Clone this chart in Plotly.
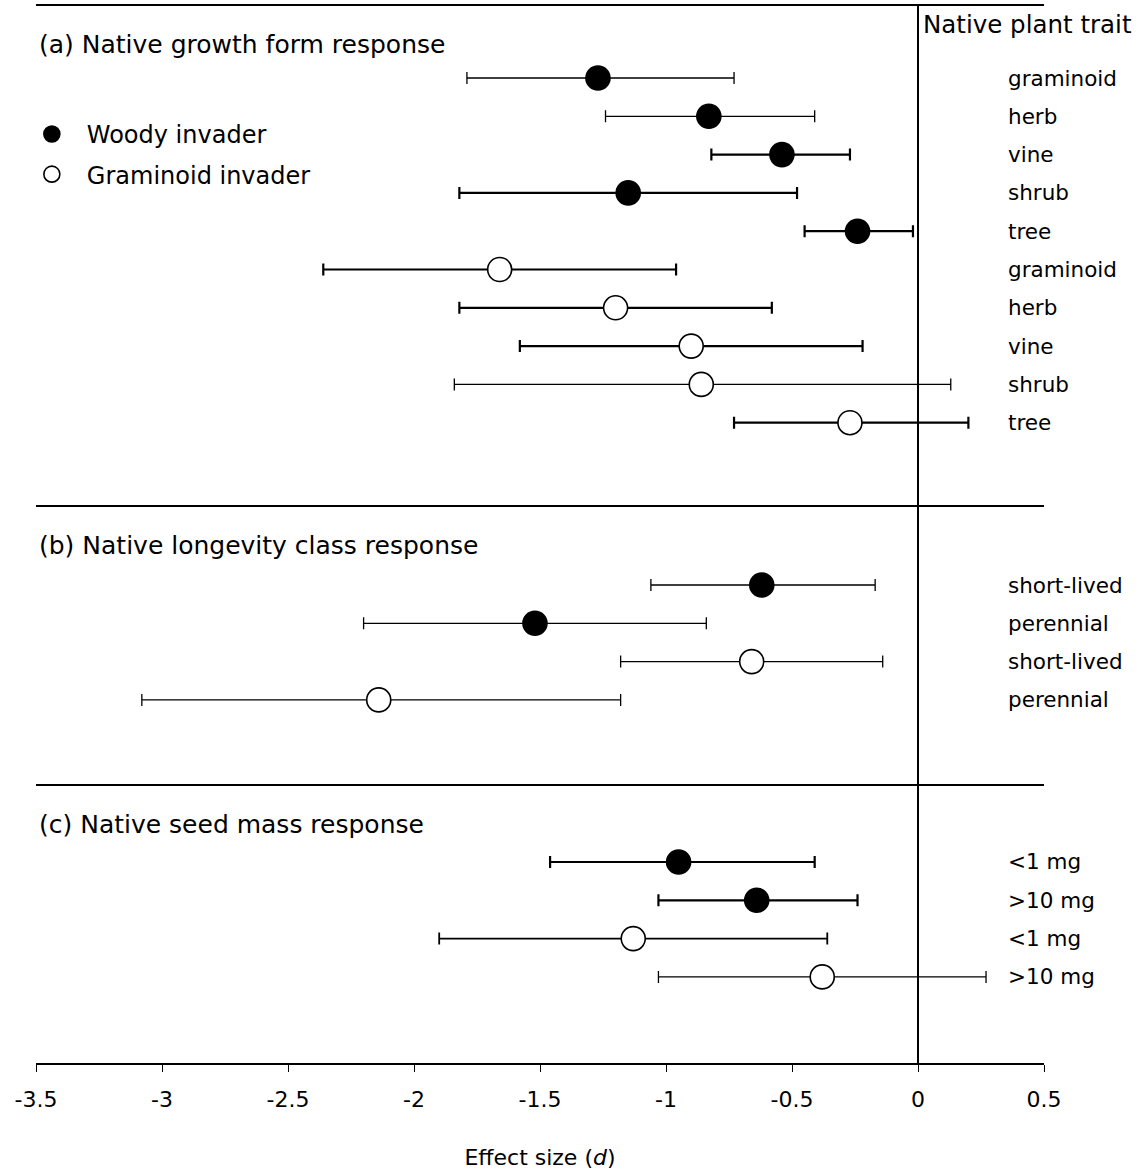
import plotly.graph_objects as go
from plotly.subplots import make_subplots

# ---- data: effect size d with lower / upper confidence limits ----
# (a) native growth form
growth_forms = ["graminoid", "herb", "vine", "shrub", "tree"]
growth_woody_d = [-1.27, -0.83, -0.54, -1.15, -0.24]
growth_woody_lo = [-1.79, -1.24, -0.82, -1.82, -0.45]
growth_woody_hi = [-0.73, -0.41, -0.27, -0.48, -0.02]
growth_gram_d = [-1.66, -1.20, -0.90, -0.86, -0.27]
growth_gram_lo = [-2.36, -1.82, -1.58, -1.84, -0.73]
growth_gram_hi = [-0.96, -0.58, -0.22, 0.13, 0.20]

# (b) native longevity class
longevity = ["short-lived", "perennial"]
long_woody_d = [-0.62, -1.52]
long_woody_lo = [-1.06, -2.20]
long_woody_hi = [-0.17, -0.84]
long_gram_d = [-0.66, -2.14]
long_gram_lo = [-1.18, -3.08]
long_gram_hi = [-0.14, -1.18]

# (c) native seed mass
seed_mass = ["<1 mg", ">10 mg"]
seed_woody_d = [-0.95, -0.64]
seed_woody_lo = [-1.46, -1.03]
seed_woody_hi = [-0.41, -0.24]
seed_gram_d = [-1.13, -0.38]
seed_gram_lo = [-1.90, -1.03]
seed_gram_hi = [-0.36, 0.27]

panel_titles = ["(a) Native growth form response",
                "(b) Native longevity class response",
                "(c) Native seed mass response"]
x_tick_vals = [-3.5, -3, -2.5, -2, -1.5, -1, -0.5, 0, 0.5]
x_tick_text = ["-3.5", "-3", "-2.5", "-2", "-1.5", "-1", "-0.5", "0", "0.5"]

# ---- layout / style settings ----
FONT = "DejaVu Sans"
W, H = 1141, 1170
M = dict(l=36, r=97, t=5, b=107)
plot_w = W - M["l"] - M["r"]
plot_h = H - M["t"] - M["b"]
panel_px = [501, 279, 278]          # pixel height of each panel
first_row_px = [73, 79, 77]         # offset of first row below panel top
ROW_PX = 38.3                       # pixel pitch between rows
bar_width_woody = [[1.3, 1.3, 2.2, 2.2, 2.2], [1.3, 1.3], [2.2, 2.2]]
bar_width_gram = [[2.2, 2.2, 2.2, 1.3, 2.2], [1.3, 1.3], [1.8, 1.3]]

panels = [
    (growth_forms, (growth_woody_d, growth_woody_lo, growth_woody_hi),
     (growth_gram_d, growth_gram_lo, growth_gram_hi)),
    (longevity, (long_woody_d, long_woody_lo, long_woody_hi),
     (long_gram_d, long_gram_lo, long_gram_hi)),
    (seed_mass, (seed_woody_d, seed_woody_lo, seed_woody_hi),
     (seed_gram_d, seed_gram_lo, seed_gram_hi)),
]

fig = make_subplots(rows=3, cols=1, shared_xaxes=True, vertical_spacing=0,
                    row_heights=panel_px)

groups = [
    ("Woody invader", "black", 1, bar_width_woody),
    ("Graminoid invader", "white", 2, bar_width_gram),
]

for p, (cats, woody, gram) in enumerate(panels):
    n = len(cats)
    for g, (name, fill, grp, widths) in enumerate(groups):
        d, lo, hi = woody if g == 0 else gram
        for i in range(n):
            fig.add_trace(go.Scatter(
                x=[d[i]], y=[g * n + i], mode="markers",
                name=name, legendgroup=name, legendrank=grp,
                showlegend=(p == 0 and i == 0),
                marker=dict(size=24, color=fill, symbol="circle",
                            line=dict(color="black", width=1.6)),
                error_x=dict(type="data", symmetric=False,
                             array=[hi[i] - d[i]], arrayminus=[d[i] - lo[i]],
                             color="black", thickness=widths[p][i], width=6),
                hoverinfo="skip",
            ), row=p + 1, col=1)

    # trait labels at the right of each row
    yref = "y" if p == 0 else f"y{p + 1}"
    for g in range(2):
        for i, c in enumerate(cats):
            fig.add_annotation(text=c, xref="paper", x=(1006 - M["l"]) / plot_w,
                               xanchor="left", yref=yref, y=g * n + i,
                               yanchor="middle", showarrow=False,
                               font=dict(family=FONT, size=21.5, color="black"))

    # y-axis: rows indexed from the top
    off = first_row_px[p] / ROW_PX
    span = panel_px[p] / ROW_PX
    fig.update_yaxes(range=[span - off, -off], visible=False, row=p + 1, col=1)

# panel boundaries (fractions of the plot area)
doms = [fig.layout.yaxis.domain, fig.layout.yaxis2.domain, fig.layout.yaxis3.domain]
shapes = []
for top in [doms[0][1], doms[1][1], doms[2][1]]:
    shapes.append(dict(type="line", xref="paper", yref="paper", x0=0, x1=1,
                       y0=top, y1=top, line=dict(color="black", width=2)))
shapes.append(dict(type="line", xref="x3", yref="paper", x0=0, x1=0,
                   y0=0, y1=1, line=dict(color="black", width=2)))

annotations = list(fig.layout.annotations)
for p, title in enumerate(panel_titles):
    top = doms[p][1]
    annotations.append(dict(text=title, xref="paper", x=0.001, xanchor="left",
                            yref="paper", y=top - 39 / plot_h, yanchor="middle",
                            showarrow=False,
                            font=dict(family=FONT, size=25, color="black")))
annotations.append(dict(text="Native plant trait", xref="paper",
                        x=(921 - M["l"]) / plot_w, xanchor="left",
                        yref="paper", y=1 - 20 / plot_h, yanchor="middle",
                        showarrow=False,
                        font=dict(family=FONT, size=24.5, color="black")))

fig.update_xaxes(range=[-3.5, 0.5], showgrid=False, zeroline=False,
                 showticklabels=False, ticks="")
fig.update_xaxes(row=3, col=1, showline=True, linecolor="black", linewidth=2,
                 ticks="outside", ticklen=7, tickwidth=1.3, tickcolor="black",
                 tickvals=x_tick_vals, ticktext=x_tick_text,
                 showticklabels=True, ticklabelstandoff=9,
                 tickfont=dict(family=FONT, size=22, color="black"),
                 title=dict(text="Effect size (<i>d</i>)", standoff=38,
                            font=dict(family=FONT, size=22, color="black")))

fig.update_layout(
    width=W, height=H, margin=M,
    paper_bgcolor="white", plot_bgcolor="white",
    shapes=shapes, annotations=annotations,
    showlegend=True,
    legend=dict(x=-0.019, xanchor="left", y=0.899, yanchor="top",
                itemwidth=60, traceorder="grouped", tracegroupgap=6,
                bgcolor="rgba(0,0,0,0)",
                font=dict(family=FONT, size=24, color="black")),
)

fig.write_html("out.html")
